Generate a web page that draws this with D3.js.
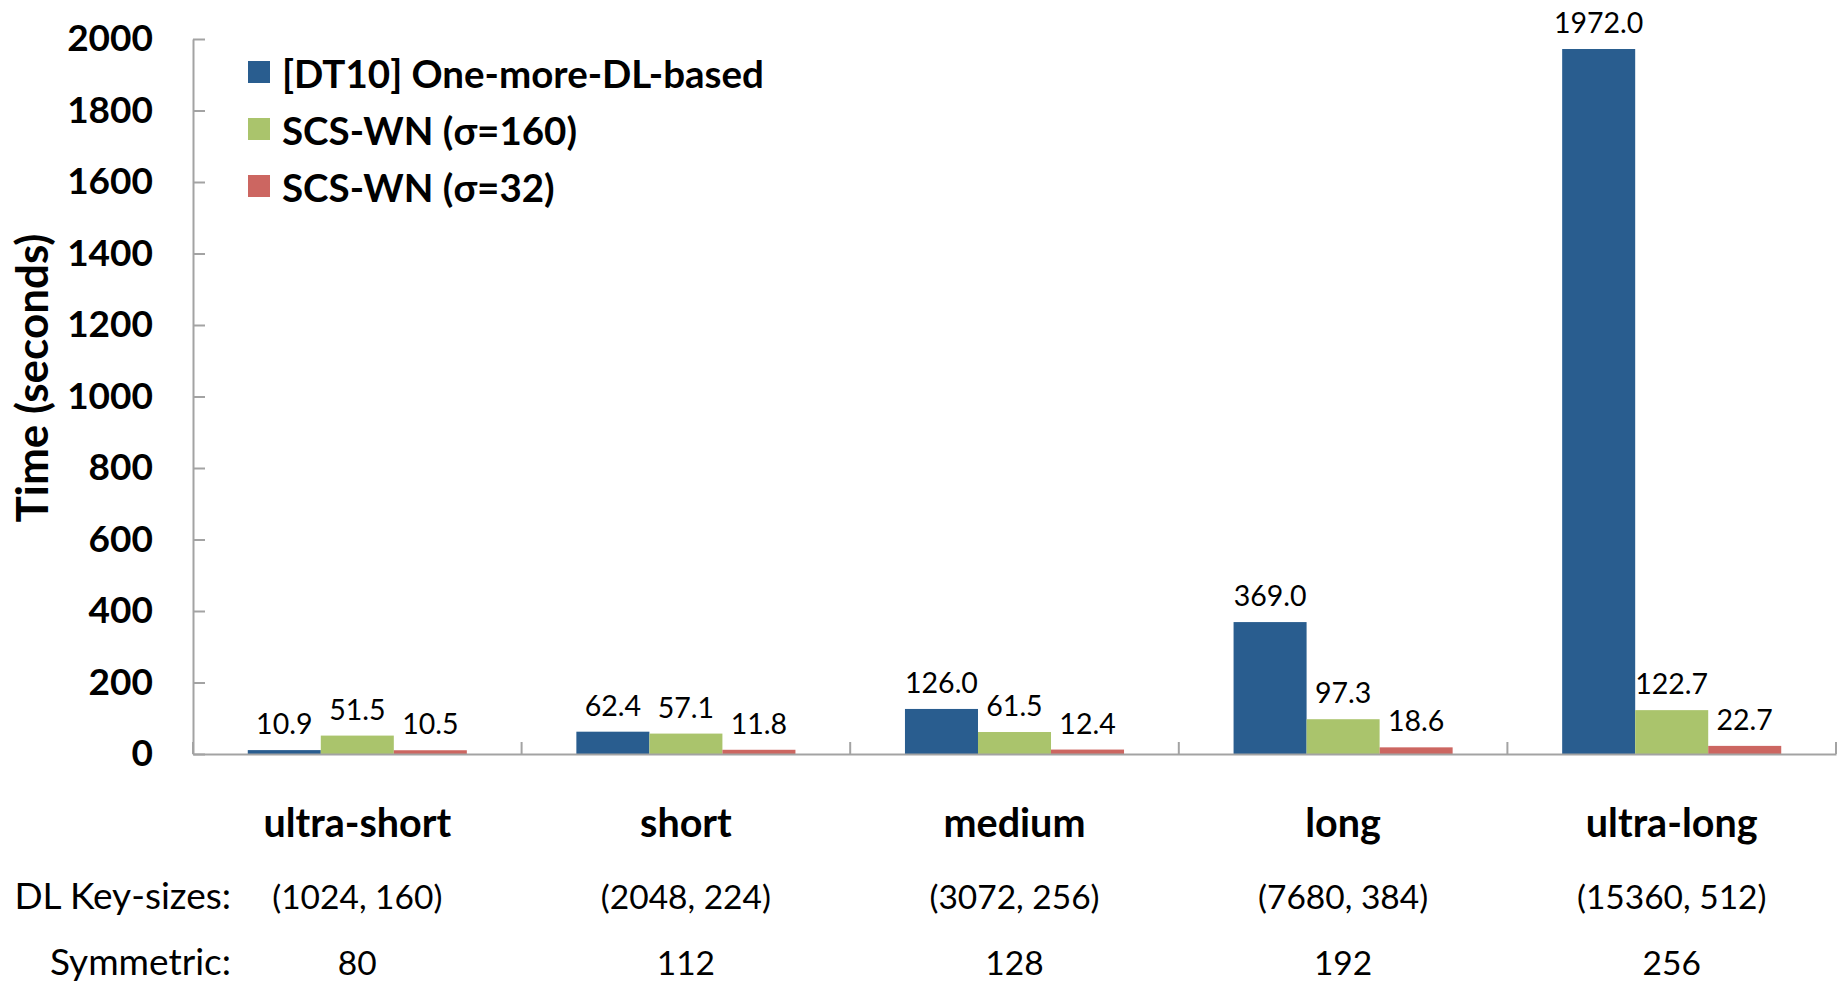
<!DOCTYPE html>
<html>
<head>
<meta charset="utf-8">
<script src="https://cdn.jsdelivr.net/npm/d3@7"></script>
<style>
  body { margin: 0; background: #fff; }
  svg { display: block; }
  text { font-family: Lato, "Open Sans", sans-serif; fill: #000; }
</style>
</head>
<body>
<svg id="chart" width="1843" height="985"></svg>
<script>
// Key-size classes on the x axis
const categories = ["ultra-short", "short", "medium", "long", "ultra-long"];
// Series shown in each group
const seriesNames = ["[DT10] One-more-DL-based", "SCS-WN (σ=160)", "SCS-WN (σ=32)"];
// Running times in seconds
const dt10Times = [10.9, 62.4, 126.0, 369.0, 1972.0];
const scsWn160Times = [51.5, 57.1, 61.5, 97.3, 122.7];
const scsWn32Times = [10.5, 11.8, 12.4, 18.6, 22.7];
// Extra rows under the category names
const dlKeySizes = ["(1024, 160)", "(2048, 224)", "(3072, 256)", "(7680, 384)", "(15360, 512)"];
const symmetricSizes = ["80", "112", "128", "192", "256"];
const yTickValues = [0, 200, 400, 600, 800, 1000, 1200, 1400, 1600, 1800, 2000];
const seriesColors = ["#295d8f", "#aac46c", "#cc6661"];

const seriesValues = [dt10Times, scsWn160Times, scsWn32Times];

const svg = d3.select("#chart");
const plot = { left: 193, right: 1836, top: 39, bottom: 754 };
const axisColor = "#a3a3a3";

const x0 = d3.scaleBand().domain(categories).range([plot.left, plot.right]).paddingInner(0).paddingOuter(0);
const x1 = d3.scaleBand().domain(d3.range(seriesNames.length)).range([0, x0.bandwidth()])
  .paddingInner(0).paddingOuter(0.75);
const y = d3.scaleLinear().domain([0, 2000]).range([plot.bottom, plot.top]);

// Bars
const groups = svg.append("g").selectAll("g")
  .data(categories)
  .join("g")
  .attr("transform", c => `translate(${x0(c)},0)`);

groups.selectAll("rect")
  .data((c, i) => seriesValues.map((vals, s) => ({ s, v: vals[i] })))
  .join("rect")
  .attr("x", d => x1(d.s))
  .attr("width", x1.bandwidth())
  .attr("y", d => y(d.v))
  .attr("height", d => y(0) - y(d.v))
  .attr("fill", d => seriesColors[d.s]);

// Value labels above bars
groups.selectAll("text.value")
  .data((c, i) => seriesValues.map((vals, s) => ({ s, v: vals[i] })))
  .join("text")
  .attr("class", "value")
  .attr("x", d => x1(d.s) + x1.bandwidth() / 2)
  .attr("y", d => y(d.v) - 16)
  .attr("text-anchor", "middle")
  .style("font-size", "28.5px")
  .text(d => d.v.toFixed(1));

// Y axis: ticks point into the plot
const yAxis = svg.append("g")
  .attr("transform", `translate(${plot.left},0)`)
  .call(d3.axisLeft(y).tickValues(yTickValues).tickFormat(d3.format("d"))
    .tickSizeInner(-12).tickSizeOuter(0).tickPadding(40));
yAxis.select(".domain").attr("stroke", axisColor).attr("stroke-width", 2);
yAxis.selectAll(".tick line").attr("stroke", axisColor).attr("stroke-width", 2);
yAxis.selectAll(".tick text")
  .style("font-family", "Lato, 'Open Sans', sans-serif")
  .style("font-size", "37px")
  .style("font-weight", "bold")
  .attr("fill", "#000");

// X axis baseline and group separators
const xAxis = svg.append("g")
  .attr("transform", `translate(0,${plot.bottom})`)
  .call(d3.axisBottom(x0).tickSize(0).tickFormat(""));
xAxis.select(".domain").attr("stroke", axisColor).attr("stroke-width", 2);

const boundaries = categories.map(c => x0(c)).concat([x0(categories[categories.length - 1]) + x0.bandwidth()]);
svg.append("g").selectAll("line")
  .data(boundaries)
  .join("line")
  .attr("x1", d => d).attr("x2", d => d)
  .attr("y1", plot.bottom).attr("y2", plot.bottom - 12)
  .attr("stroke", axisColor).attr("stroke-width", 2);

// Category names
svg.append("g").selectAll("text")
  .data(categories)
  .join("text")
  .attr("x", c => x0(c) + x0.bandwidth() / 2)
  .attr("y", 837)
  .attr("text-anchor", "middle")
  .style("font-size", "39.5px")
  .style("font-weight", "bold")
  .text(c => c);

// Key-size rows
const rows = [
  { label: "DL Key-sizes:", values: dlKeySizes, y: 909 },
  { label: "Symmetric:", values: symmetricSizes, y: 975 }
];
rows.forEach(r => {
  svg.append("text")
    .attr("x", 231).attr("y", r.y)
    .attr("text-anchor", "end")
    .style("font-size", "37px")
    .text(r.label);
  svg.append("g").selectAll("text")
    .data(r.values)
    .join("text")
    .attr("x", (v, i) => x0(categories[i]) + x0.bandwidth() / 2)
    .attr("y", r.y)
    .attr("text-anchor", "middle")
    .style("font-size", "33.5px")
    .text(v => v);
});

// Y axis title
svg.append("text")
  .attr("transform", "translate(33,378) rotate(-90)")
  .attr("text-anchor", "middle")
  .attr("dy", "0.35em")
  .style("font-size", "44px")
  .style("font-weight", "bold")
  .text("Time (seconds)");

// Legend
const legend = svg.append("g").attr("transform", "translate(248,61)");
const items = legend.selectAll("g")
  .data(seriesNames)
  .join("g")
  .attr("transform", (d, i) => `translate(0,${i * 57})`);
items.append("rect")
  .attr("width", 22).attr("height", 22)
  .attr("fill", (d, i) => seriesColors[i]);
items.append("text")
  .attr("x", 34).attr("y", 13)
  .attr("dy", "0.36em")
  .style("font-size", "38.5px")
  .style("font-weight", "bold")
  .text(d => d);
</script>
</body>
</html>
